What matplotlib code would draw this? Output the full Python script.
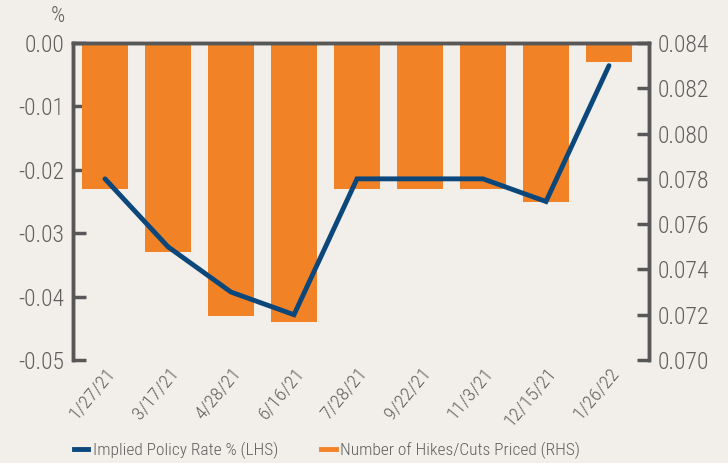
import matplotlib
matplotlib.use("Agg")
import matplotlib.pyplot as plt
from matplotlib.lines import Line2D
import numpy as np

dates = ["1/27/21", "3/17/21", "4/28/21", "6/16/21", "7/28/21", "9/22/21", "11/3/21", "12/15/21", "1/26/22"]
hikes_cuts = [-0.023, -0.033, -0.043, -0.044, -0.023, -0.023, -0.023, -0.025, -0.003]
policy_rate = [0.078, 0.075, 0.073, 0.072, 0.078, 0.078, 0.078, 0.077, 0.083]
left_ticks = [0.00, -0.01, -0.02, -0.03, -0.04, -0.05]
right_ticks = [0.070, 0.072, 0.074, 0.076, 0.078, 0.080, 0.082, 0.084]

bg = "#F2EEEA"
orange = "#F28226"
navy = "#0B477A"
axc = "#575757"
txt = "#5f5f5f"

plt.rcParams['font.family'] = ['Roboto Condensed', 'Archivo Narrow', 'Liberation Sans', 'DejaVu Sans']
plt.rcParams['font.weight'] = 'light'

fig = plt.figure(figsize=(7.28, 4.63), dpi=100, facecolor=bg)
ax = fig.add_axes([73/728, 1-360/463, (649-73)/728, (360-43)/463])
ax.set_facecolor(bg)
x = np.arange(len(dates))
ax.bar(x, hikes_cuts, width=0.73, color=orange, zorder=2)
ax.set_ylim(-0.05, 0.0)
ax.set_xlim(-0.508, 8.635)
ax.set_yticks(left_ticks)
ax.set_yticklabels([f"{v:.2f}" for v in left_ticks])
ax.set_xticks(x)
ax.set_xticklabels(dates, rotation=50, ha="right", rotation_mode="anchor")
ax.tick_params(axis='y', direction='in', length=9, width=2.5, color=axc, labelcolor=txt, labelsize=17, pad=6)
ax.tick_params(axis='x', length=0, labelcolor=txt, labelsize=14, pad=3)
for s in ['left', 'right', 'top']:
    ax.spines[s].set_color(axc)
    ax.spines[s].set_linewidth(2.5)
ax.spines['bottom'].set_visible(False)

ax2 = ax.twinx()
ax2.plot(x, policy_rate, color=navy, lw=3.5, solid_capstyle='round', solid_joinstyle='miter', zorder=3)
ax2.set_ylim(0.070, 0.084)
ax2.set_yticks(right_ticks)
ax2.set_yticklabels([f"{v:.3f}" for v in right_ticks])
ax2.tick_params(axis='y', direction='in', length=9, width=2.5, color=axc, labelcolor=txt, labelsize=17, pad=6)
for s in ['left', 'right', 'top']:
    ax2.spines[s].set_color(axc)
    ax2.spines[s].set_linewidth(2.5)
ax2.spines['bottom'].set_visible(False)

fig.text(58/728, 1-16/463, "%", ha="center", va="center", color=txt, fontsize=16)

handles = [Line2D([0], [0], color=navy, lw=3.5), Line2D([0], [0], color=orange, lw=3.5)]
fig.legend(handles, ["Implied Policy Rate % (LHS)", "Number of Hikes/Cuts Priced (RHS)"],
           loc="center", bbox_to_anchor=(327/728, 1-450/463), ncol=2, frameon=False,
           fontsize=12.5, labelcolor=txt, handlelength=0.85, handletextpad=0.25, columnspacing=2.5)

fig.savefig("out.png", dpi=100, facecolor=bg)
